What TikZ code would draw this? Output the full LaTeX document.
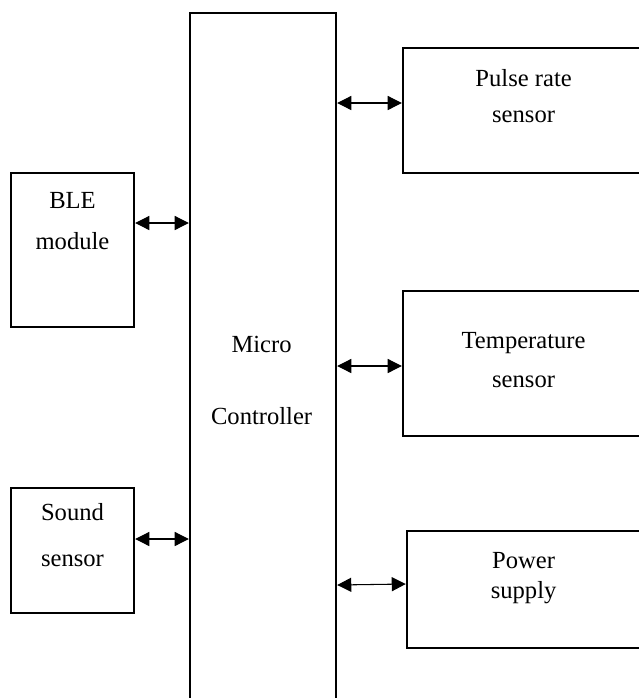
\documentclass[tikz,border=0pt]{standalone}
\usepackage{fontspec}
\setmainfont{Liberation Serif}
\usetikzlibrary{arrows.meta}

\tikzset{
  box/.style={draw, line width=1.4pt, inner sep=0pt},
  lbl/.style={inner sep=0pt, font=\fontsize{14}{17}\selectfont},
  link/.style={{Triangle[length=8pt,width=8pt]}-{Triangle[length=8pt,width=8pt]}, line width=0.6pt}
}

\begin{document}
\begin{tikzpicture}[x=0.02cm, y=-0.02cm]
  % frame in pixel units, y going down
  \useasboundingbox (0,0) rectangle (639,698);
  \clip (0,0) rectangle (639,698);

  % blocks
  \node[box, minimum width=2.92cm, minimum height=14.14cm] (mcu)   at (263,366.5) {};
  \node[box, minimum width=4.94cm, minimum height=2.5cm]   (pulse) at (526.5,110.5) {};
  \node[box, minimum width=4.94cm, minimum height=2.9cm]   (temp)  at (526.5,363.5) {};
  \node[box, minimum width=4.86cm, minimum height=2.34cm]  (power) at (528.5,589.5) {};
  \node[box, minimum width=2.46cm, minimum height=3.08cm]  (ble)   at (72.5,250) {};
  \node[box, minimum width=2.46cm, minimum height=2.5cm]   (sound) at (72.5,550.5) {};

  % texts
  \node[lbl] (mcu1)   at (261.6,344) {Micro};
  \node[lbl] (mcu2)   at (261.6,416) {Controller};
  \node[lbl] (pulse1) at (523.6,78)  {Pulse rate};
  \node[lbl] (pulse2) at (523.6,117) {sensor};
  \node[lbl] (temp1)  at (523.6,343) {Temperature};
  \node[lbl] (temp2)  at (523.6,382) {sensor};
  \node[lbl] (power1) at (523.6,561) {Power};
  \node[lbl] (power2) at (523.6,593) {supply};
  \node[lbl] (ble1)   at (72.5,200)  {BLE};
  \node[lbl] (ble2)   at (72.5,241)  {module};
  \node[lbl] (sound1) at (72.5,512)  {Sound};
  \node[lbl] (sound2) at (72.5,561)  {sensor};

  % links to the controller
  \draw[link] (mcu.east |- 0,103) -- (pulse.west |- 0,103);
  \draw[link] (mcu.east |- 0,366) -- (temp.west |- 0,366);
  \draw[link] (mcu.east |- 0,585) -- (power.west |- 0,584);
  \draw[link] (ble.east |- 0,223) -- (mcu.west |- 0,223);
  \draw[link] (sound.east |- 0,539) -- (mcu.west |- 0,539);
\end{tikzpicture}
\end{document}
